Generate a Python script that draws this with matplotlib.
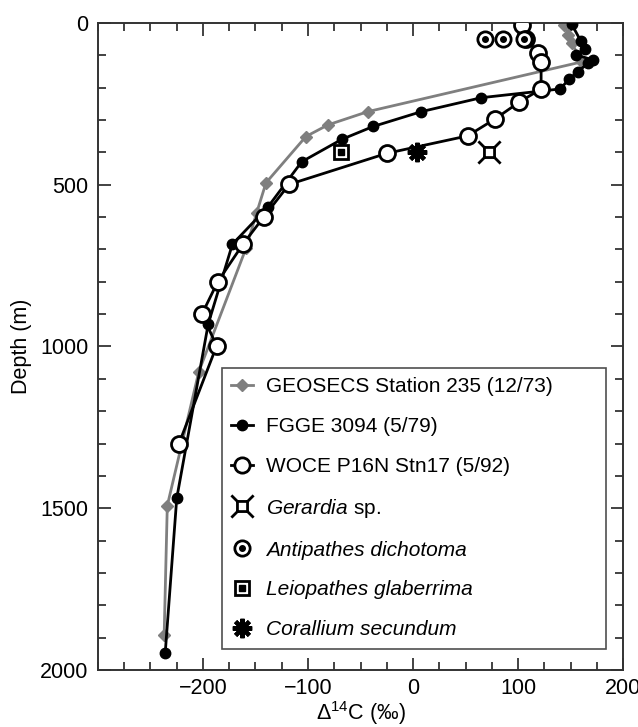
import numpy as np
import matplotlib.pyplot as plt
from matplotlib.path import Path
from matplotlib.lines import Line2D
from matplotlib.ticker import MultipleLocator

plt.rcParams['font.family'] = ['Liberation Sans', 'DejaVu Sans']
plt.rcParams['mathtext.fontset'] = 'custom'
plt.rcParams['mathtext.rm'] = 'Liberation Sans'
plt.rcParams['mathtext.it'] = 'Liberation Sans:italic'

# water column profiles: delta14C (permil) vs depth (m)
geosecs_d14c = [144, 148, 151, 161, -43, -81, -102, -140, -149, -159, -204, -234, -237]
geosecs_depth = [5, 38, 62, 120, 274, 315, 351, 494, 588, 696, 1078, 1492, 1892]

fgge_d14c = [151, 160, 164, 155, 171, 167, 157, 149, 140, 65, 8, -38, -68, -106, -138, -172, -195, -225, -236]
fgge_depth = [3, 57, 80, 98, 114, 124, 150, 173, 204, 231, 274, 320, 360, 429, 568, 684, 930, 1469, 1948]

woce_d14c = [104, 108, 119, 122, 122, 101, 78, 52, -25, -118, -142, -162, -186, -201, -187, -223]
woce_depth = [5, 50, 92, 122, 204, 245, 297, 349, 403, 499, 599, 684, 800, 900, 998, 1301]

# coral samples
gerardia_d14c = [72]
gerardia_depth = [400]
antipathes_d14c = [69, 86, 106]
antipathes_depth = [50, 50, 50]
leiopathes_d14c = [-69]
leiopathes_depth = [400]
corallium_d14c = [4]
corallium_depth = [400]

series_labels = ['GEOSECS Station 235 (12/73)', 'FGGE 3094 (5/79)', 'WOCE P16N Stn17 (5/92)']
xtick_vals = [-200, -100, 0, 100, 200]
xtick_text = ['\u2212200', '\u2212100', '0', '100', '200']

# square with spikes out of each corner
verts = [(-0.5, -0.5), (0.5, -0.5), (0.5, 0.5), (-0.5, 0.5), (-0.5, -0.5),
         (0.5, 0.5), (1.1, 1.1), (-0.5, 0.5), (-1.1, 1.1),
         (0.5, -0.5), (1.1, -1.1), (-0.5, -0.5), (-1.1, -1.1)]
codes = [Path.MOVETO, Path.LINETO, Path.LINETO, Path.LINETO, Path.LINETO,
         Path.MOVETO, Path.LINETO, Path.MOVETO, Path.LINETO,
         Path.MOVETO, Path.LINETO, Path.MOVETO, Path.LINETO]
spiked_square = Path(verts, codes)

fs = 15.5

fig = plt.figure(figsize=(6.38, 7.27), dpi=100)
ax = fig.add_axes([0.1536, 0.0784, 0.8229, 0.89])

gray = '#7f7f7f'
ax.plot(geosecs_d14c, geosecs_depth, color=gray, lw=2, marker='D', ms=6.5,
        mfc=gray, mec=gray, zorder=2)
ax.plot(fgge_d14c, fgge_depth, color='black', lw=2, marker='o', ms=7.5,
        mfc='black', mec='black', zorder=3)
ax.plot(woce_d14c, woce_depth, color='black', lw=2, marker='o', ms=11.5,
        mfc='white', mec='black', mew=2, zorder=4)

ax.plot(gerardia_d14c, gerardia_depth, ls='none', marker=spiked_square, ms=16,
        mfc='none', mec='black', mew=2, zorder=5)
ax.plot(antipathes_d14c, antipathes_depth, ls='none', marker='o', ms=11,
        mfc='white', mec='black', mew=2, zorder=5)
ax.plot(antipathes_d14c, antipathes_depth, ls='none', marker='o', ms=4,
        mfc='black', mec='black', zorder=6)
ax.plot(leiopathes_d14c, leiopathes_depth, ls='none', marker='s', ms=10,
        mfc='white', mec='black', mew=2, zorder=5)
ax.plot(leiopathes_d14c, leiopathes_depth, ls='none', marker='s', ms=4,
        mfc='black', mec='black', zorder=6)
ax.plot(corallium_d14c, corallium_depth, ls='none', marker=(8, 2, 0), ms=14,
        mec='black', mew=3, zorder=5)

ax.set_xlim(-300, 200)
ax.set_ylim(2000, 0)
ax.xaxis.set_minor_locator(MultipleLocator(25))
ax.yaxis.set_major_locator(MultipleLocator(500))
ax.yaxis.set_minor_locator(MultipleLocator(100))
ax.tick_params(which='both', direction='in', top=True, right=True, labelsize=fs,
               color='#222222', width=1.2, pad=7)
ax.tick_params(which='major', length=9)
ax.tick_params(which='minor', length=5.5)
ax.tick_params(axis='x', pad=6)
ax.set_xticks(xtick_vals)
ax.set_xticklabels(xtick_text)
for s in ax.spines.values():
    s.set_linewidth(1.4)
    s.set_color('#333333')

ax.set_xlabel('\u0394$^{14}$C (\u2030)', fontsize=fs, labelpad=0)
ax.set_ylabel('Depth (m)', fontsize=fs, labelpad=6)

handles = [
    Line2D([], [], color=gray, lw=2, marker='D', ms=6.5, mfc=gray, mec=gray),
    Line2D([], [], color='black', lw=2, marker='o', ms=7.5, mfc='black'),
    Line2D([], [], color='black', lw=2, marker='o', ms=11, mfc='white', mew=2),
    Line2D([], [], ls='none', marker=spiked_square, ms=16, mfc='none', mec='black', mew=2),
    (Line2D([], [], ls='none', marker='o', ms=11, mfc='white', mec='black', mew=2),
     Line2D([], [], ls='none', marker='o', ms=4, mfc='black', mec='black')),
    (Line2D([], [], ls='none', marker='s', ms=10, mfc='white', mec='black', mew=2),
     Line2D([], [], ls='none', marker='s', ms=4, mfc='black', mec='black')),
    Line2D([], [], ls='none', marker=(8, 2, 0), ms=14, mec='black', mew=3),
]
labels = series_labels + ['$\\it{Gerardia}$ sp.', 'Antipathes dichotoma',
                          'Leiopathes glaberrima', 'Corallium secundum']
leg = ax.legend(handles, labels, loc='lower left', mode='expand',
                bbox_to_anchor=(0.2356, 0.033, 0.732, 0.43),
                borderaxespad=0, fontsize=15, frameon=True, fancybox=False,
                edgecolor='#222222', handlelength=1.05, handletextpad=0.65,
                labelspacing=1.0, borderpad=0.45)
leg.get_frame().set_linewidth(1.2)
for t in leg.get_texts()[4:]:
    t.set_fontstyle('italic')

fig.savefig('out.png', dpi=100)
